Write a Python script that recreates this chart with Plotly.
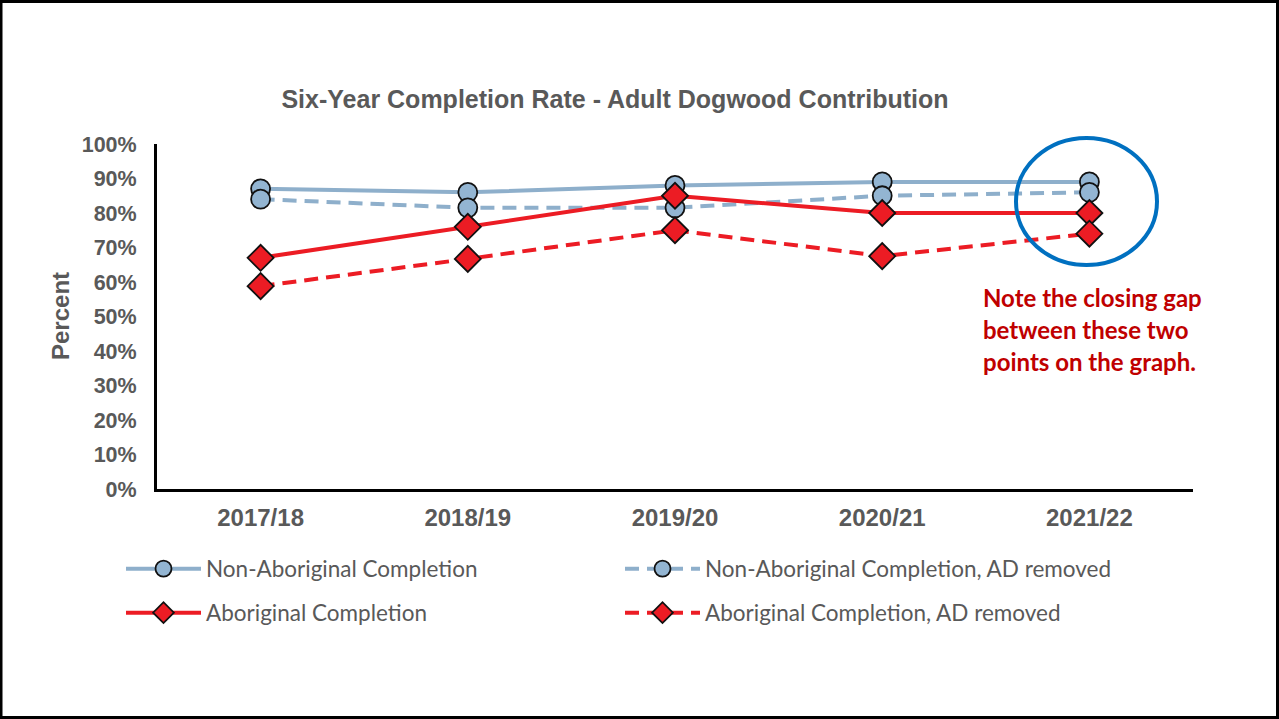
import plotly.graph_objects as go

years = ["2017/18", "2018/19", "2019/20", "2020/21", "2021/22"]
non_ab = [87, 86, 88, 89, 89]
non_ab_ad_removed = [84, 81.5, 81.5, 85, 86]
ab = [67, 76, 85, 80, 80]
ab_ad_removed = [58.8, 66.7, 75, 67.5, 74]

y_ticks = [0, 10, 20, 30, 40, 50, 60, 70, 80, 90, 100]
y_ticklabels = [f"{v}%" for v in y_ticks]

BLUE_LINE = "#8EAFCB"
BLUE_FILL = "#93B5D2"
RED = "#EC1C24"
GRAY = "#595959"

fig = go.Figure()

def add(name, y, color, fill, dash, symbol, size, legend):
    fig.add_trace(go.Scatter(
        x=years, y=y, name=name, mode="lines+markers",
        line=dict(color=color, width=4, dash=dash),
        marker=dict(symbol=symbol, size=size, color=fill,
                    line=dict(color="#111111", width=1.8)),
        legend=legend,
    ))

add("Non-Aboriginal Completion", non_ab, BLUE_LINE, BLUE_FILL, "solid", "circle", 19, "legend")
add("Non-Aboriginal Completion, AD removed", non_ab_ad_removed, BLUE_LINE, BLUE_FILL, "14px,8px", "circle", 19, "legend")
add("Aboriginal Completion", ab, RED, RED, "solid", "diamond", 20, "legend2")
add("Aboriginal Completion, AD removed", ab_ad_removed, RED, RED, "14px,8px", "diamond", 20, "legend2")

L, R, T, B = 157, 86, 144, 230
PW = 1279 - L - R
PH = 719 - T - B

def px(x):
    return (x - L) / PW

def py(y):
    return (719 - B - y) / PH

legend_font = dict(family="Lato, 'Noto Sans', sans-serif", size=22.5, color=GRAY)

fig.update_layout(
    width=1279, height=719,
    margin=dict(l=L, r=R, t=T, b=B),
    paper_bgcolor="white", plot_bgcolor="white",
    title=dict(
        text="<b>Six-Year Completion Rate - Adult Dogwood Contribution</b>",
        font=dict(family="Liberation Sans, Arial, sans-serif", size=25, color=GRAY),
        x=615 / 1279, xanchor="center", xref="container",
        y=1 - 99 / 719, yanchor="middle", yref="container",
    ),
    xaxis=dict(
        type="category", range=[-0.5, 4.5],
        showline=True, linecolor="black", linewidth=3,
        showgrid=False, ticks="", zeroline=False,
        tickfont=dict(family="Liberation Sans, Arial, sans-serif", size=24, color=GRAY),
        ticklabelstandoff=5,
    ),
    yaxis=dict(
        range=[0, 100], tickvals=y_ticks, ticktext=[f"<b>{t}</b>" for t in y_ticklabels],
        showline=True, linecolor="black", linewidth=3,
        showgrid=False, ticks="", zeroline=False,
        tickfont=dict(family="Liberation Sans, Arial, sans-serif", size=21.5, color=GRAY),
        ticklabelstandoff=13,
    ),
    legend=dict(
        orientation="h", x=px(121), y=py(569), xanchor="left", yanchor="middle",
        font=legend_font, entrywidth=409, entrywidthmode="pixels",
        itemwidth=75, bgcolor="rgba(0,0,0,0)", traceorder="normal",
    ),
    legend2=dict(
        orientation="h", x=px(121), y=py(613), xanchor="left", yanchor="middle",
        font=legend_font, entrywidth=409, entrywidthmode="pixels",
        itemwidth=75, bgcolor="rgba(0,0,0,0)", traceorder="normal",
    ),
    showlegend=True,
)

fig.update_xaxes(tickprefix="<b>", ticksuffix="</b>")

# Y-axis title
fig.add_annotation(
    text="<b>Percent</b>", xref="paper", yref="paper", x=px(60), y=py(316),
    textangle=-90, showarrow=False, xanchor="center", yanchor="middle",
    font=dict(family="Liberation Sans, Arial, sans-serif", size=24, color=GRAY),
)

# Highlight ellipse around last category
fig.add_shape(
    type="circle", xref="paper", yref="paper",
    x0=px(1016), x1=px(1157), y0=py(265), y1=py(138),
    line=dict(color="#0070C0", width=4),
)

note_lines = ["Note the closing gap", "between these two", "points on the graph."]
for i, line in enumerate(note_lines):
    fig.add_annotation(
        text=f"<b>{line}</b>", xref="paper", yref="paper",
        x=px(981), y=py(297 + 32 * i), xanchor="left", yanchor="middle",
        showarrow=False,
        font=dict(family="Lato, 'Open Sans', sans-serif", size=24, color="#C00000"),
    )

# Page border
fig.add_shape(
    type="rect", xref="paper", yref="paper",
    x0=px(1), x1=px(1277.5), y0=py(717.5), y1=py(1.5),
    line=dict(color="black", width=3), layer="below",
)

fig.write_html(
    "out.html",
    config={"displayModeBar": False},
    post_script="document.body.style.margin='0';document.body.style.overflow='hidden';",
)
